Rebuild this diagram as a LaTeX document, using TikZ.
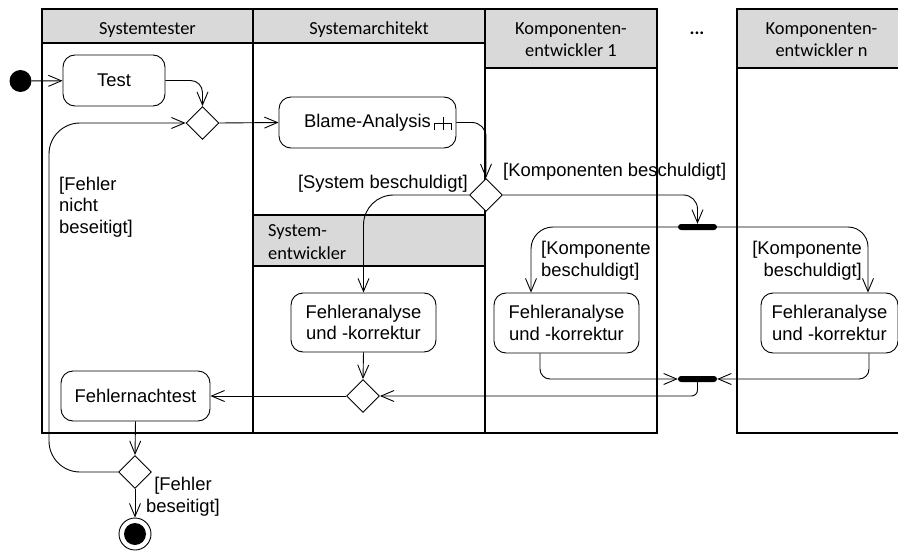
\documentclass[tikz,border=0pt]{standalone}
\usepackage{fontspec}
\setmainfont{Liberation Sans}
\newfontfamily\lanefont{Carlito}
\usetikzlibrary{arrows.meta,shapes.geometric}
\definecolor{headgray}{HTML}{D9D9D9}

\begin{document}
\begin{tikzpicture}[x=1pt,y=-1pt,
  >={Straight Barb[length=13pt,width=11pt]},
  lanerule/.style={line width=1.2pt},
  lanehead/.style={draw, line width=1.2pt, fill=headgray},
  headtext/.style={font=\lanefont\fontsize{18.4}{22.4}\selectfont, align=center, inner sep=0pt},
  act/.style={draw, line width=0.9pt, rounded corners=12pt, fill=white, align=center,
              inner sep=0pt, font=\fontsize{18.4}{21.7}\selectfont},
  decision/.style={draw, diamond, aspect=1, minimum size=33pt, inner sep=0pt,
                   line width=0.9pt, fill=white},
  bar/.style={fill=black, rounded corners=3pt, minimum width=39pt, minimum height=6pt, inner sep=0pt},
  flow/.style={->, line width=0.9pt},
  guard/.style={inner sep=0pt, font=\fontsize{18.4}{21.7}\selectfont}
]
\useasboundingbox (0,0) rectangle (898,551);

% swimlane headers
\draw[lanehead] (42,9) rectangle (253,43);
\draw[lanehead] (253,9) rectangle (485,43);
\draw[lanehead] (485,9) rectangle (657,68);
\draw[lanehead] (737,9) rectangle (908,68);
\draw[lanehead] (253,215) rectangle (485,266);
\node[headtext, anchor=base] (hTester) at (147.5,34.3) {Systemtester};
\node[headtext, anchor=base] (hArch) at (369,34.3) {Systemarchitekt};
\node[headtext, anchor=north] (hKomp1) at (571,22) {Komponenten-\\entwickler 1};
\node[headtext, anchor=north] (hKompN) at (821.5,22) {Komponenten-\\entwickler n};
\node[headtext, anchor=base, font=\lanefont\bfseries\fontsize{18.4}{22}\selectfont] (hDots) at (697,35) {...};
\node[headtext, align=left, anchor=north west] (hSysEnt) at (268,224.5) {System-\\entwickler};

% swimlane rules
\draw[lanerule] (42,9) -- (42,433) -- (657,433) -- (657,9);
\draw[lanerule] (253,43) -- (253,433);
\draw[lanerule] (485,68) -- (485,433);
\draw[lanerule] (908,433) -- (737,433) -- (737,9);

% nodes
\node[circle, fill=black, minimum size=22pt, inner sep=0pt] (init) at (20.5,81) {};
\node[act, minimum width=102pt, minimum height=51pt] (test) at (114,80.5) {Test};
\node[decision] (d1) at (202.5,123) {};
\node[act, minimum width=177pt, minimum height=51pt] (blame) at (367.5,122.5) {Blame-Analysis};
\node[decision] (d2) at (486,195) {};
\node[bar] (fork) at (697.5,227) {};
\node[act, minimum width=145pt, minimum height=59pt] (fsys) at (363.5,322.5) {Fehleranalyse\\und -korrektur};
\node[act, minimum width=145pt, minimum height=60pt] (fk1) at (566.5,323) {Fehleranalyse\\und -korrektur};
\node[act, minimum width=137pt, minimum height=60pt] (fkn) at (829.5,323) {Fehleranalyse\\und -korrektur};
\node[bar] (join) at (697.5,379) {};
\node[decision] (d3) at (363,396) {};
\node[act, minimum width=149pt, minimum height=50pt] (fnt) at (135.5,396) {Fehlernachtest};
\node[decision] (d4) at (135,472) {};
\node[circle, draw, line width=0.9pt, minimum size=32pt, inner sep=0pt] (final) at (135,534) {};
\fill (final.center) circle (11pt);
\coordinate (loopbend) at (49,300);

% rake symbol of the call behaviour action
\draw[line width=0.9pt] (443,116.7) -- (443,130);
\draw[line width=0.9pt] (434.3,130) -- (434.3,123.3) -- (451.7,123.3) -- (451.7,130);

% control flows
\draw[flow] (init) -- (test);
\draw[flow, rounded corners=12pt] (test.east) -| (d1.north);
\draw[flow] (d1.east) -- (blame.west);
\draw[flow, rounded corners=14pt] (blame.east) -| (d2.north);
\draw[flow, rounded corners=30pt] (d2.west) -| (fsys.north);
\draw[flow, rounded corners=14pt] (d2.east) -| (fork.north);
\draw[flow, rounded corners=22pt] (fork.west) -| ([xshift=-35.5pt]fk1.north);
\draw[flow, rounded corners=20pt] (fork.east) -| ([xshift=38.5pt]fkn.north);
\draw[flow, rounded corners=10pt] ([xshift=-26.5pt]fk1.south) |- (join.west);
\draw[flow, rounded corners=10pt] ([xshift=39.5pt]fkn.south) |- (join.east);
\draw[flow, rounded corners=6pt] (join.south) |- (d3.east);
\draw[flow] (fsys.south) -- (d3.north);
\draw[flow] (d3.west) -- (fnt.east);
\draw[flow] (fnt.south) -- (d4.north);
\draw[flow] (d4.south) -- (final.north);
\draw[flow, rounded corners=31pt] (d4.west) -| (loopbend) |- (d1.west);

% guards
\node[guard, anchor=east] (gSys) at (468,184) {[System beschuldigt]};
\node[guard, anchor=west] (gKomp) at (503,172) {[Komponenten beschuldigt]};
\node[guard, anchor=west, align=left] (gK1) at (541,261) {[Komponente\\beschuldigt]};
\node[guard, anchor=east, align=right] (gKn) at (862,261) {[Komponente\\beschuldigt]};
\node[guard, anchor=west, align=left] (gNicht) at (59,207) {[Fehler\\nicht\\beseitigt]};
\node[guard, align=center] (gBes) at (183,497) {[Fehler\\beseitigt]};
\end{tikzpicture}
\end{document}
